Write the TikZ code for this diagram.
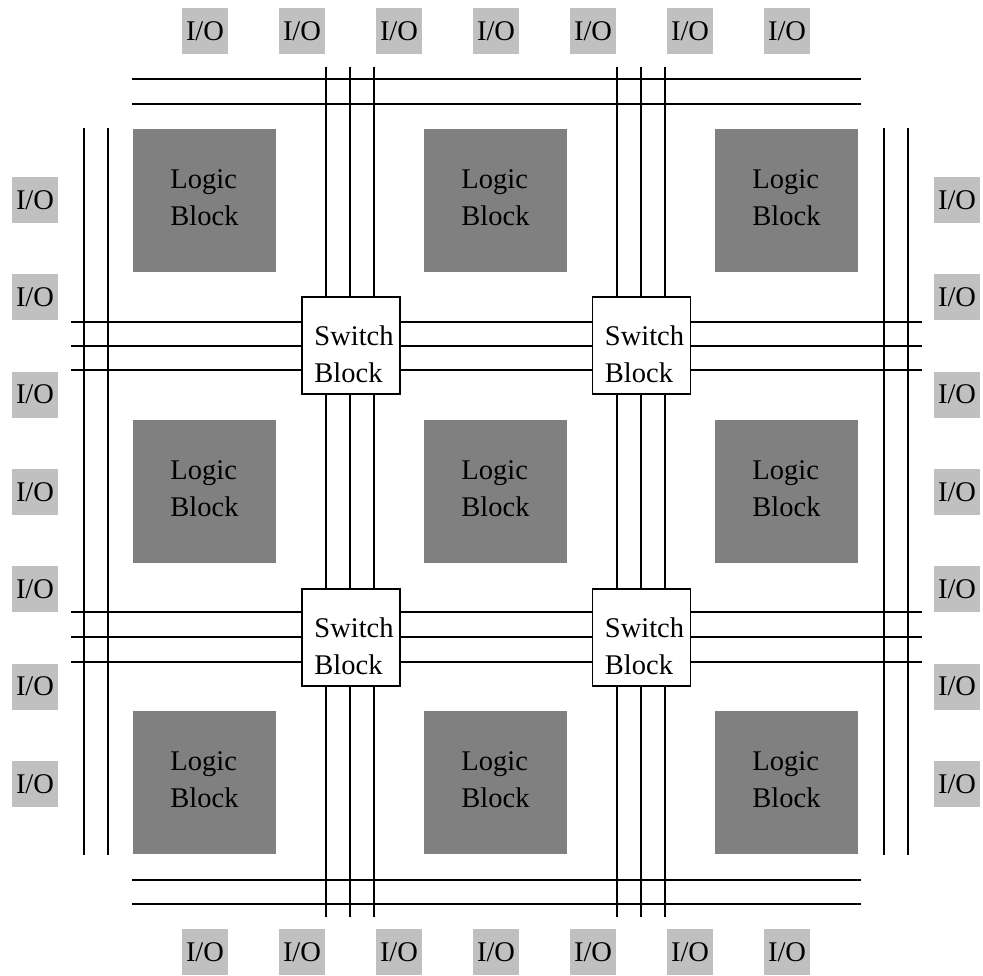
\documentclass[tikz,border=0pt]{standalone}
\usepackage{fontspec}
\setmainfont{Liberation Serif}
\definecolor{iogray}{RGB}{192,192,192}
\definecolor{logicgray}{RGB}{128,128,128}
\tikzset{
  txt/.style={font=\fontsize{28.5}{37}\selectfont},
  io/.style={txt, fill=iogray, minimum width=46pt, minimum height=46pt, inner sep=0pt},
  logic/.style={fill=logicgray, minimum width=143pt, minimum height=143pt, inner sep=0pt},
  switchblk/.style={draw, fill=white, line width=1.2pt, minimum width=98pt, minimum height=97pt, inner sep=0pt},
  blocktext/.style={txt, inner sep=0pt, align=left},
  wire/.style={line width=1.2pt}
}
\begin{document}
\begin{tikzpicture}[x=1pt,y=-1pt]
\useasboundingbox (0,0) rectangle (983,975);
% I/O pads
\foreach \k in {0,...,6} {
  \node[io] (iot\k) at ({205+97*\k},31) {I/O};
  \node[io] (iob\k) at ({205+97*\k},952) {I/O};
  \node[io] (iol\k) at (35,{200+97.3*\k}) {I/O};
  \node[io] (ior\k) at (957,{200+97.3*\k}) {I/O};
}
% logic blocks
\foreach \i in {0,1,2} {
  \foreach \j in {0,1,2} {
    \node[logic] (lb\i\j) at ({204.5+291*\i},{200.5+291*\j}) {};
    \node[blocktext] (lbt\i\j) at ({204.5+291*\i},{197.5+291*\j}) {Logic\\Block};
  }
}
% outer channels
\foreach \y in {79,104} {
  \coordinate (tl\y) at (132,\y); \coordinate (tr\y) at (861,\y);
  \draw[wire] (tl\y) -- (tr\y);
}
\foreach \y in {880,904} {
  \coordinate (bl\y) at (132,\y); \coordinate (br\y) at (861,\y);
  \draw[wire] (bl\y) -- (br\y);
}
\foreach \x in {84,108,884,908} {
  \coordinate (vt\x) at (\x,128); \coordinate (vb\x) at (\x,855);
  \draw[wire] (vt\x) -- (vb\x);
}
% inner channels through switch blocks
\foreach \x in {326,350,374,617,641,665} {
  \coordinate (ct\x) at (\x,67); \coordinate (cb\x) at (\x,917);
  \draw[wire] (ct\x) -- (cb\x);
}
\foreach \y in {322,346,370,612,637,662} {
  \coordinate (rl\y) at (71,\y); \coordinate (rr\y) at (922,\y);
  \draw[wire] (rl\y) -- (rr\y);
}
% switch blocks
\foreach \i in {0,1} {
  \foreach \j in {0,1} {
    \node[switchblk] (sb\i\j) at ({351+290.5*\i},{345.5+292*\j}) {};
    \node[blocktext] (sbt\i\j) at ({354+290.5*\i},{354.5+292*\j}) {Switch\\Block};
  }
}
\end{tikzpicture}
\end{document}
